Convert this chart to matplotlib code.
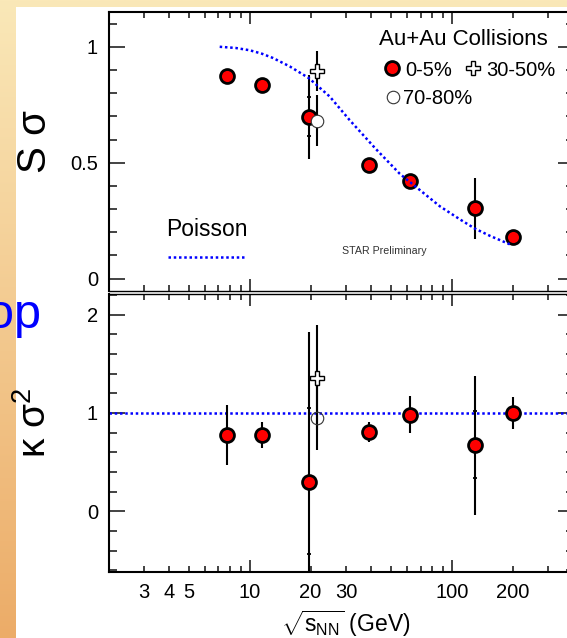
import numpy as np
import matplotlib
matplotlib.use('Agg')
import matplotlib.pyplot as plt
from matplotlib.ticker import FixedLocator, FuncFormatter, MultipleLocator
from matplotlib.patches import Rectangle
from matplotlib.legend import Legend

plt.rcParams['font.family'] = ['Liberation Sans', 'DejaVu Sans']
plt.rcParams['mathtext.fontset'] = 'custom'
plt.rcParams['mathtext.rm'] = 'Liberation Sans'
plt.rcParams['mathtext.it'] = 'Liberation Sans:italic'
plt.rcParams['mathtext.bf'] = 'Liberation Sans:bold'
plt.rcParams['mathtext.sf'] = 'Liberation Sans'

# ---------------- data ----------------
energy_central = [7.7, 11.5, 19.6, 39, 62.4, 130, 200]
s_sigma_central = [0.872, 0.835, 0.698, 0.490, 0.421, 0.303, 0.181]
s_sigma_central_err = [0.025, 0.015, 0.18, 0.015, 0.02, 0.13, 0.02]
ksig2_central = [0.78, 0.78, 0.30, 0.807, 0.984, 0.671, 1.0]
ksig2_central_err = [0.305, 0.133, 1.526, 0.105, 0.19, 0.71, 0.16]

sys_energy = [19.6]
s_sigma_sys = [0.698]
s_sigma_sys_err = [0.084]
sys_energy_k = [19.6, 130]
ksig2_sys = [0.31, 0.678]
ksig2_sys_err = [0.74, 0.34]

energy_peripheral = [21.5]
s_sigma_3050 = [0.897]
s_sigma_3050_err = [0.086]
ksig2_3050 = [1.36]
ksig2_3050_err = [0.53]
s_sigma_7080 = [0.681]
s_sigma_7080_err = [0.11]
ksig2_7080 = [0.95]
ksig2_7080_err = [0.33]

poisson_energy = [7.1, 8.5, 10, 11.5, 13, 15.8, 19.6, 24.9, 31.2, 42, 55.3, 69.5, 87.3, 110, 130, 155, 195]
poisson_s_sigma = [1.0, 0.995, 0.985, 0.97, 0.952, 0.915, 0.865, 0.785, 0.684, 0.56, 0.452, 0.382, 0.312, 0.255, 0.216, 0.184, 0.147]
poisson_ksig2 = 1.0

xtick_major = [10, 100]
xtick_minor = [2, 3, 4, 5, 6, 7, 8, 9, 20, 30, 40, 50, 60, 70, 80, 90, 200, 300, 400]
xtick_labeled = {3: '3', 4: '4', 5: '5', 10: '10', 20: '20', 30: '30', 100: '100', 200: '200'}
ytop_major = [0, 0.5, 1]
ybot_major = [0, 1, 2]

# ---------------- figure ----------------
W, H = 567, 638
fig = plt.figure(figsize=(W / 100, H / 100), dpi=100)

bg = fig.add_axes([0, 0, 1, 1], zorder=-10)
bg.axis('off')
t = np.linspace(0, 1, 256)[:, None, None]
c_top = np.array([250, 232, 184]) / 255
c_bot = np.array([236, 172, 104]) / 255
grad = c_top * (1 - t) + c_bot * t
bg.imshow(grad, aspect='auto', extent=[0, 1, 0, 1], origin='upper')
bg.add_patch(Rectangle((16 / W, 0), 1, (H - 7) / H, color='white', lw=0))
bg.set_xlim(0, 1)
bg.set_ylim(0, 1)

ax1 = fig.add_axes([108.5 / W, 1 - 290.5 / H, 465 / W, 278.5 / H])
ax2 = fig.add_axes([108.5 / W, 1 - 572 / H, 465 / W, 278 / H])

blue = '#0000ff'
dot = (0, (1, 1.1))

def xfmt(v, pos):
    k = int(round(v))
    return xtick_labeled.get(k, '') if abs(v - k) < 1e-6 else ''

for ax in (ax1, ax2):
    ax.set_xscale('log')
    ax.set_xlim(2, 400)
    ax.xaxis.set_major_locator(FixedLocator(xtick_major))
    ax.xaxis.set_minor_locator(FixedLocator(xtick_minor))
    ax.xaxis.set_major_formatter(FuncFormatter(xfmt))
    ax.xaxis.set_minor_formatter(FuncFormatter(xfmt))
    ax.tick_params(which='both', direction='in', top=True, right=True,
                   color='#222222', width=1.2, labelsize=14.5)
    ax.tick_params(axis='x', which='major', length=8.9, pad=8)
    ax.tick_params(axis='x', which='minor', length=4.1, pad=8)
    ax.tick_params(axis='y', which='major', length=11.3, pad=7.5)
    ax.tick_params(axis='y', which='minor', length=6)
    ax.yaxis.set_major_formatter(FuncFormatter(lambda v, p: '%g' % v))
    for s in ax.spines.values():
        s.set_linewidth(1.5)
        s.set_color('black')

ax1.spines['bottom'].set_linewidth(1.0)
ax2.spines['top'].set_linewidth(1.0)
ax1.tick_params(axis='x', which='both', labelbottom=False)

# ----- top panel -----
ax1.set_ylim(-0.051, 1.15)
ax1.yaxis.set_major_locator(FixedLocator(ytop_major))
ax1.yaxis.set_minor_locator(MultipleLocator(0.1))

ax1.errorbar(energy_central, s_sigma_central, yerr=s_sigma_central_err, fmt='none',
             ecolor='black', elinewidth=1.5, capsize=0, zorder=3)
ax1.errorbar(sys_energy, s_sigma_sys, yerr=s_sigma_sys_err, fmt='none',
             ecolor='black', elinewidth=0, capsize=1.3, capthick=1.3, zorder=3)
ax1.errorbar(energy_peripheral, s_sigma_3050, yerr=s_sigma_3050_err, fmt='none',
             ecolor='black', elinewidth=1.5, capsize=0, zorder=3)
ax1.errorbar(energy_peripheral, s_sigma_7080, yerr=s_sigma_7080_err, fmt='none',
             ecolor='black', elinewidth=1.5, capsize=0, zorder=3)
h_red, = ax1.plot(energy_central, s_sigma_central, 'o', ms=10, mfc='red', mec='black', mew=2, zorder=5)
h_open, = ax1.plot(energy_peripheral, s_sigma_7080, 'o', ms=9, mfc='white', mec='#333333', mew=0.8, zorder=5)
h_cross, = ax1.plot(energy_peripheral, s_sigma_3050, 'P', ms=10, mfc='white', mec='black', mew=1.0, zorder=5)
h_pois, = ax1.plot(poisson_energy, poisson_s_sigma, color=blue, lw=1.8, ls=dot, zorder=6)

ax1.text((379 - 108.5) / 465, (290.5 - 45) / 278.5, 'Au+Au Collisions', transform=ax1.transAxes,
         fontsize=16, ha='left', va='baseline')
leg1 = Legend(ax1, [h_red, h_cross], ['0-5%', '30-50%'], ncol=2, loc='center left',
              bbox_to_anchor=((385.7 - 108.5) / 465, (290.5 - 70) / 278.5), borderpad=0, borderaxespad=0,
              handlelength=0.6, handletextpad=0.36, columnspacing=0.73, fontsize=14.5, frameon=False,
              numpoints=1)
ax1.add_artist(leg1)
leg2 = Legend(ax1, [h_open], ['70-80%'], loc='center left',
              bbox_to_anchor=((387 - 108.5) / 465, (290.5 - 98.3) / 278.5), borderpad=0, borderaxespad=0,
              handlelength=0.6, handletextpad=0.2, fontsize=14.5, frameon=False, numpoints=1)
ax1.add_artist(leg2)
leg3 = Legend(ax1, [h_pois], [''], title='Poisson', title_fontsize=16.5, loc='center',
              bbox_to_anchor=((207 - 108.5) / 465, (290.5 - 243) / 278.5), borderpad=0, borderaxespad=0,
              handlelength=4.0, handletextpad=0, fontsize=14, frameon=False)
ax1.add_artist(leg3)

ax1.text((384.8 - 108.5) / 465, (290.5 - 251) / 278.5, 'STAR Preliminary', transform=ax1.transAxes,
         fontsize=7.7, color='#333333', ha='center', va='center')

# ----- bottom panel -----
ax2.set_ylim(-0.617, 2.21)
ax2.yaxis.set_major_locator(FixedLocator(ybot_major))
ax2.yaxis.set_minor_locator(MultipleLocator(0.2))

ax2.axhline(poisson_ksig2, color=blue, lw=1.8, ls=dot, zorder=2)
ax2.errorbar(energy_central, ksig2_central, yerr=ksig2_central_err, fmt='none',
             ecolor='black', elinewidth=1.5, capsize=0, zorder=3)
ax2.errorbar(sys_energy_k, ksig2_sys, yerr=ksig2_sys_err, fmt='none',
             ecolor='black', elinewidth=0, capsize=1.3, capthick=1.3, zorder=3)
ax2.errorbar(energy_peripheral, ksig2_3050, yerr=ksig2_3050_err, fmt='none',
             ecolor='black', elinewidth=1.5, capsize=0, zorder=3)
ax2.errorbar(energy_peripheral, ksig2_7080, yerr=ksig2_7080_err, fmt='none',
             ecolor='black', elinewidth=1.5, capsize=0, zorder=3)
ax2.plot(energy_central, ksig2_central, 'o', ms=10, mfc='red', mec='black', mew=2, zorder=5)
ax2.plot(energy_peripheral, ksig2_7080, 'o', ms=9, mfc='none', mec='#333333', mew=0.8, zorder=5)
ax2.plot(energy_peripheral, ksig2_3050, 'P', ms=10, mfc='white', mec='black', mew=1.0, zorder=5)

# ----- labels -----
fig.text(35 / W, 1 - 142 / H, 'S σ', rotation=90, ha='center', va='center', fontsize=29)
fig.text(35 / W, 1 - 423 / H, r'$\mathrm{\kappa\ \sigma^{2}}$', rotation=90, ha='center', va='center', fontsize=28)
fig.text(346 / W, 1 - 624 / H, r'$\sqrt{\mathrm{s}_{\mathrm{NN}}}$ (GeV)', ha='center', va='center', fontsize=16.5)
fig.text(-13 / W, 1 - 328 / H, 'op', color=blue, fontsize=35, ha='left', va='baseline')

fig.savefig('out.png', dpi=100)
